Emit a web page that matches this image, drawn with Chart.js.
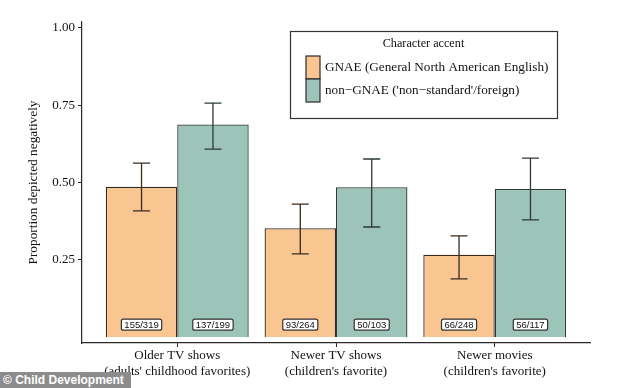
<!DOCTYPE html>
<html>
<head>
<meta charset="utf-8">
<script src="https://cdn.jsdelivr.net/npm/chart.js@4/dist/chart.umd.min.js"></script>
<style>
  html, body { margin: 0; padding: 0; background: #fff; }
  #wrap { position: relative; width: 634px; height: 388px; }
  #credit {
    position: absolute; left: 0; top: 372px; width: 131px; height: 16px;
    background: #8c8c8c; color: #fff; font: bold 12px "Liberation Sans", Arial, sans-serif;
    line-height: 16px; padding-left: 3px; box-sizing: border-box; white-space: nowrap;
  }
</style>
</head>
<body>
<div id="wrap">
  <canvas id="chart" width="634" height="388"></canvas>
  <div id="credit">© Child Development</div>
</div>
<script>
const categories = [
  ["Older TV shows", "(adults' childhood favorites)"],
  ["Newer TV shows", "(children's favorite)"],
  ["Newer movies", "(children's favorite)"],
];
const seriesNames = ["GNAE (General North American English)", "non\u2212GNAE ('non\u2212standard'/foreign)"];
const gnaeValues = [0.486, 0.352, 0.266];
const gnaeLow = [0.408, 0.269, 0.188];
const gnaeHigh = [0.563, 0.430, 0.327];
const gnaeCounts = ["155/319", "93/264", "66/248"];
const otherValues = [0.688, 0.485, 0.479];
const otherLow = [0.608, 0.356, 0.379];
const otherHigh = [0.757, 0.576, 0.579];
const otherCounts = ["137/199", "50/103", "56/117"];
const yTicks = [0.25, 0.5, 0.75, 1.0];

const SERIF = "'Liberation Serif', 'Times New Roman', serif";
const INK = "#2a2a2a";

const lows = [gnaeLow, otherLow];
const highs = [gnaeHigh, otherHigh];
const counts = [gnaeCounts, otherCounts];

// error bars + n labels inside bars
const barExtras = {
  id: "barExtras",
  afterDatasetsDraw(chart) {
    const ctx = chart.ctx;
    const y = chart.scales.y;
    chart.data.datasets.forEach((ds, i) => {
      chart.getDatasetMeta(i).data.forEach((bar, j) => {
        const x = bar.x;
        const top = y.getPixelForValue(highs[i][j]);
        const bot = y.getPixelForValue(lows[i][j]);
        ctx.save();
        ctx.strokeStyle = i === 0 ? "#3a2a1c" : "#2c3a36";
        ctx.lineWidth = 1.3;
        ctx.beginPath();
        ctx.moveTo(x, top); ctx.lineTo(x, bot);
        ctx.moveTo(x - 8.5, top); ctx.lineTo(x + 8.5, top);
        ctx.moveTo(x - 8.5, bot); ctx.lineTo(x + 8.5, bot);
        ctx.stroke();

        // count label
        ctx.font = "9.5px 'Liberation Sans', Arial, sans-serif";
        const txt = counts[i][j];
        const w = ctx.measureText(txt).width + 6;
        const h = 11;
        const cy = y.getPixelForValue(0.04);
        ctx.beginPath();
        ctx.roundRect(x - w / 2, cy - h / 2, w, h, 2);
        ctx.fillStyle = "#fff";
        ctx.fill();
        ctx.lineWidth = 1.2;
        ctx.strokeStyle = "#333";
        ctx.stroke();
        ctx.fillStyle = "#111";
        ctx.textAlign = "center";
        ctx.textBaseline = "middle";
        ctx.fillText(txt, x, cy + 0.5);
        ctx.restore();
      });
    });
  },
};

// boxed legend with title, top right
const boxLegend = {
  id: "boxLegend",
  afterDraw(chart) {
    const ctx = chart.ctx;
    const bx = 290, by = 31, bw = 267, bh = 87;
    ctx.save();
    ctx.fillStyle = "#fff";
    ctx.fillRect(bx, by, bw, bh);
    ctx.strokeStyle = "#333";
    ctx.lineWidth = 1.2;
    ctx.strokeRect(bx + 0.5, by + 0.5, bw, bh);
    ctx.fillStyle = "#111";
    ctx.font = "12.2px " + SERIF;
    ctx.textAlign = "center";
    ctx.textBaseline = "middle";
    ctx.fillText("Character accent", bx + bw / 2, 44);
    ctx.textAlign = "left";
    chart.data.datasets.forEach((ds, i) => {
      const sy = 56 + i * 23;
      ctx.fillStyle = ds.backgroundColor;
      ctx.fillRect(306, sy, 14, 23);
      ctx.strokeStyle = "#2a2a2a";
      ctx.lineWidth = 1.2;
      ctx.strokeRect(306, sy, 14, 23);
      ctx.fillStyle = "#111";
      ctx.font = "13.2px " + SERIF;
      ctx.fillText(ds.label, 325, sy + 12);
    });
    ctx.restore();
  },
};

new Chart(document.getElementById("chart"), {
  type: "bar",
  data: {
    datasets: [
      {
        label: seriesNames[0],
        data: gnaeValues.map((v, i) => ({ x: i, y: v })),
        backgroundColor: "#f9c692",
        borderColor: "#3a2a1c",
        borderWidth: 1.3,
      },
      {
        label: seriesNames[1],
        data: otherValues.map((v, i) => ({ x: i, y: v })),
        backgroundColor: "#9cc4b9",
        borderColor: "#2c3a36",
        borderWidth: 1.3,
      },
    ],
  },
  options: {
    responsive: false,
    animation: false,
    categoryPercentage: 0.9,
    barPercentage: 1.0,
    layout: { padding: { top: 22, right: 44, left: 0, bottom: 0 } },
    plugins: { legend: { display: false }, tooltip: { enabled: false } },
    scales: {
      x: {
        type: "linear",
        min: -0.6,
        max: 2.6,
        offset: false,
        afterBuildTicks: (s) => { s.ticks = [0, 1, 2].map((v) => ({ value: v })); },
        afterFit: (s) => { s.height = 45; },
        ticks: {
          callback: (v) => categories[v],
          color: "#111",
          font: { family: SERIF, size: 13, lineHeight: 1.2 },
          padding: 1,
          maxRotation: 0,
          autoSkip: false,
        },
        grid: { offset: false, drawOnChartArea: false, drawTicks: true, tickLength: 4, color: INK },
        border: { display: true, color: INK, width: 1.2 },
      },
      y: {
        min: -0.0194,
        max: 1.0194,
        afterBuildTicks: (s) => { s.ticks = yTicks.map((v) => ({ value: v })); },
        afterFit: (s) => { s.width = 82; },
        ticks: {
          callback: (v) => v.toFixed(2),
          color: "#111",
          font: { family: SERIF, size: 13 },
          padding: 3,
        },
        title: {
          display: true,
          text: "Proportion depicted negatively",
          color: "#111",
          font: { family: SERIF, size: 13.3 },
          padding: { top: 26, bottom: 0 },
        },
        grid: { drawOnChartArea: false, drawTicks: true, tickLength: 4, color: INK },
        border: { display: true, color: INK, width: 1.2 },
      },
    },
  },
  plugins: [barExtras, boxLegend],
});
</script>
</body>
</html>
